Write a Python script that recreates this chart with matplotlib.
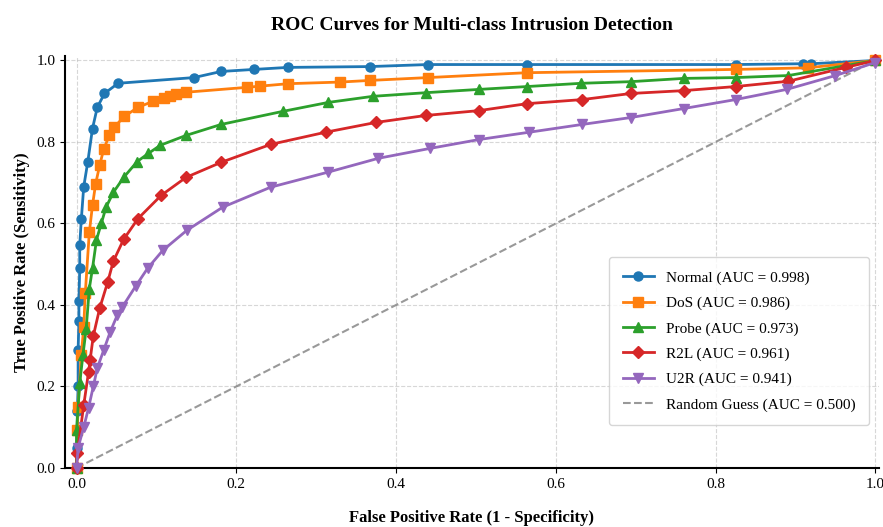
import numpy as np
import matplotlib.pyplot as plt

plt.rcParams['font.family'] = ['Liberation Serif', 'DejaVu Serif']

# values
normal_fpr = [0.0, 0.0, 0.001, 0.001, 0.002, 0.002, 0.003, 0.003, 0.004, 0.004, 0.006, 0.009,
              0.014, 0.02, 0.026, 0.035, 0.052, 0.147, 0.181, 0.222, 0.265, 0.367, 0.44,
              0.564, 0.825, 0.91, 0.92, 1.0]
normal_tpr = [0.0, 0.05, 0.093, 0.14, 0.2, 0.29, 0.36, 0.41, 0.49, 0.547, 0.61, 0.69, 0.75,
              0.833, 0.885, 0.919, 0.944, 0.958, 0.973, 0.978, 0.983, 0.985, 0.99, 0.99,
              0.99, 0.992, 0.992, 1.0]

dos_fpr = [0.0, 0.001, 0.002, 0.006, 0.009, 0.011, 0.016, 0.02, 0.024, 0.029, 0.034, 0.041,
           0.047, 0.06, 0.077, 0.096, 0.109, 0.117, 0.125, 0.137, 0.213, 0.23, 0.265, 0.33,
           0.367, 0.44, 0.564, 0.825, 0.916, 1.0]
dos_tpr = [0.0, 0.093, 0.15, 0.277, 0.346, 0.43, 0.578, 0.645, 0.698, 0.743, 0.782, 0.816,
           0.836, 0.863, 0.885, 0.9, 0.909, 0.914, 0.918, 0.922, 0.934, 0.937, 0.943, 0.947,
           0.951, 0.958, 0.97, 0.978, 0.982, 1.0]

probe_fpr = [0.0, 0.0, 0.004, 0.008, 0.012, 0.016, 0.02, 0.025, 0.031, 0.037, 0.046, 0.059,
             0.076, 0.09, 0.105, 0.137, 0.181, 0.258, 0.315, 0.371, 0.438, 0.504, 0.564,
             0.632, 0.694, 0.76, 0.825, 0.891, 1.0]
probe_tpr = [0.0, 0.093, 0.208, 0.277, 0.34, 0.44, 0.49, 0.56, 0.6, 0.64, 0.676, 0.713,
             0.752, 0.772, 0.792, 0.816, 0.843, 0.875, 0.897, 0.912, 0.921, 0.929, 0.936,
             0.944, 0.948, 0.956, 0.958, 0.963, 1.0]

r2l_fpr = [0.0, 0.001, 0.009, 0.015, 0.017, 0.021, 0.029, 0.039, 0.046, 0.059, 0.077, 0.106,
           0.137, 0.181, 0.243, 0.312, 0.375, 0.437, 0.504, 0.564, 0.633, 0.694, 0.76,
           0.825, 0.891, 0.963, 1.0]
r2l_tpr = [0.0, 0.037, 0.154, 0.235, 0.265, 0.324, 0.392, 0.456, 0.507, 0.561, 0.612, 0.669,
           0.713, 0.75, 0.794, 0.824, 0.848, 0.865, 0.877, 0.894, 0.904, 0.919, 0.926,
           0.936, 0.949, 0.983, 1.0]

u2r_fpr = [0.0, 0.002, 0.009, 0.015, 0.021, 0.026, 0.034, 0.042, 0.051, 0.057, 0.074, 0.089,
           0.108, 0.138, 0.183, 0.243, 0.315, 0.378, 0.442, 0.504, 0.567, 0.633, 0.694,
           0.76, 0.825, 0.889, 0.95, 1.0]
u2r_tpr = [0.0, 0.05, 0.1, 0.147, 0.2, 0.245, 0.289, 0.333, 0.375, 0.394, 0.446, 0.49, 0.534,
           0.583, 0.64, 0.689, 0.726, 0.76, 0.784, 0.806, 0.824, 0.843, 0.86, 0.882, 0.904,
           0.929, 0.963, 0.995]

names = ['Normal', 'DoS', 'Probe', 'R2L', 'U2R']
aucs = [0.998, 0.986, 0.973, 0.961, 0.941]
curves = [(normal_fpr, normal_tpr), (dos_fpr, dos_tpr), (probe_fpr, probe_tpr),
          (r2l_fpr, r2l_tpr), (u2r_fpr, u2r_tpr)]
markers = ['o', 's', '^', 'D', 'v']
colors = ['#1f77b4', '#ff7f0e', '#2ca02c', '#d62728', '#9467bd']

fig, ax = plt.subplots(figsize=(8.83, 5.27), dpi=100)
fig.subplots_adjust(left=0.074, right=0.995, bottom=0.112, top=0.893)

for (fpr, tpr), name, auc, m, c in zip(curves, names, aucs, markers, colors):
    ms = 6.5 if m != 'D' else 6
    ax.plot(fpr, tpr, marker=m, color=c, lw=2, ms=ms, clip_on=False, zorder=3,
            label=f'{name} (AUC = {auc:.3f})')

ax.plot([0, 1], [0, 1], ls='--', color='gray', lw=1.5, alpha=0.8,
        label='Random Guess (AUC = 0.500)')

ax.set_xlim(-0.014, 1.004)
ax.set_ylim(0, 1.01)
ax.set_xticks([0, 0.2, 0.4, 0.6, 0.8, 1.0])
ax.set_yticks([0, 0.2, 0.4, 0.6, 0.8, 1.0])
ax.tick_params(labelsize=11)
ax.grid(True, ls='--', alpha=0.5)
ax.spines['top'].set_visible(False)
ax.spines['right'].set_visible(False)
ax.spines['left'].set_linewidth(1.5)
ax.spines['bottom'].set_linewidth(1.5)

ax.set_xlabel('False Positive Rate (1 - Specificity)', fontsize=12, fontweight='bold', labelpad=14)
ax.set_ylabel('True Positive Rate (Sensitivity)', fontsize=12, fontweight='bold', labelpad=5)
ax.set_title('ROC Curves for Multi-class Intrusion Detection', fontsize=14, fontweight='bold', pad=19)

ax.legend(loc='lower right', fontsize=11, frameon=True, borderpad=0.9, labelspacing=0.75,
          bbox_to_anchor=(0.998, 0.085))

fig.savefig('out.png', dpi=100)
